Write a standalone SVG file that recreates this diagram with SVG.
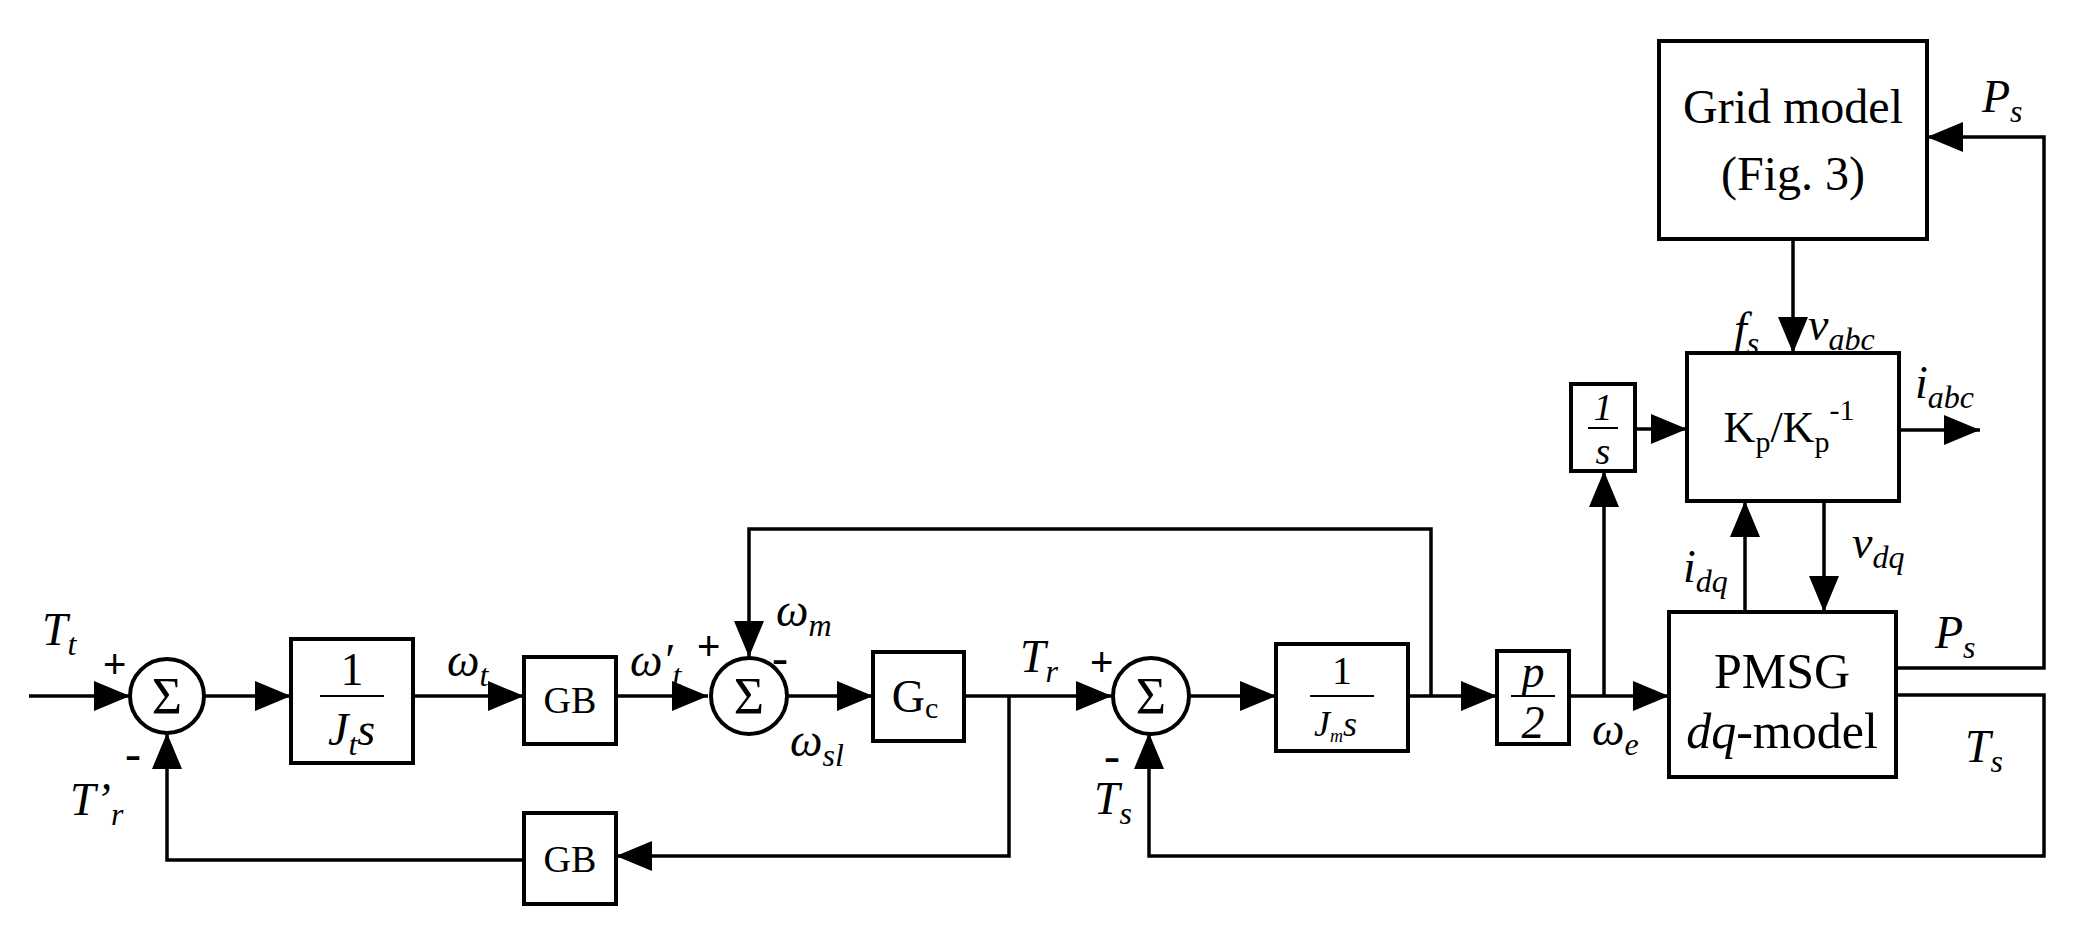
<svg xmlns="http://www.w3.org/2000/svg" width="2090" height="947" viewBox="0 0 2090 947">
<style>
.b{fill:none;stroke:#000;stroke-width:4}
.l{fill:none;stroke:#000;stroke-width:3.5}
text{font-family:"Liberation Serif",serif;fill:#000}
.i{font-style:italic;font-size:46px}
.n{font-size:52px}
.s{font-size:32px}
.p{font-size:40px;font-family:"Liberation Sans",sans-serif}
</style>
<defs>
<marker id="A" viewBox="0 0 12 10" refX="12" refY="5" markerWidth="40" markerHeight="30" orient="auto" markerUnits="userSpaceOnUse"><path d="M0,0L12,5L0,10z"/></marker>
</defs>
<g id="connectors">
<path class="l" d="M29,696H130" marker-end="url(#A)"/>
<path class="l" d="M204,696H291" marker-end="url(#A)"/>
<path class="l" d="M413,696H524" marker-end="url(#A)"/>
<path class="l" d="M616,696H708" marker-end="url(#A)"/>
<path class="l" d="M786,696H873" marker-end="url(#A)"/>
<path class="l" d="M964,696H1112" marker-end="url(#A)"/>
<path class="l" d="M1009,696V856H616" marker-end="url(#A)"/>
<path class="l" d="M524,860H167V733" marker-end="url(#A)"/>
<path class="l" d="M1190,696H1276" marker-end="url(#A)"/>
<path class="l" d="M1408,696H1497" marker-end="url(#A)"/>
<path class="l" d="M1431,696V529H749V657" marker-end="url(#A)"/>
<path class="l" d="M1569,696H1669" marker-end="url(#A)"/>
<path class="l" d="M1604,696V471" marker-end="url(#A)"/>
<path class="l" d="M1635,429H1687" marker-end="url(#A)"/>
<path class="l" d="M1899,430H1980" marker-end="url(#A)"/>
<path class="l" d="M1793,239V353" marker-end="url(#A)"/>
<path class="l" d="M1745,612V501" marker-end="url(#A)"/>
<path class="l" d="M1824,501V612" marker-end="url(#A)"/>
<path class="l" d="M1896,668H2044V137H1927" marker-end="url(#A)"/>
<path class="l" d="M1896,695H2044V856H1149V733" marker-end="url(#A)"/>
</g>
<g id="sum1"><circle class="b" cx="167" cy="696" r="37"/><text x="167" y="714" class="n" text-anchor="middle">Σ</text></g>
<g id="sum2"><circle class="b" cx="749" cy="696" r="38"/><text x="749" y="714" class="n" text-anchor="middle">Σ</text></g>
<g id="sum3"><circle class="b" cx="1151" cy="696" r="38"/><text x="1151" y="714" class="n" text-anchor="middle">Σ</text></g>
<g id="jt"><rect class="b" x="291" y="639" width="122" height="124"/><text x="352" y="685" font-size="46" text-anchor="middle">1</text><path d="M320,696H384" stroke="#000" stroke-width="2"/><text x="328" y="745" class="i">J<tspan class="s" dy="10">t</tspan><tspan dy="-10">s</tspan></text></g>
<g id="gb1"><rect class="b" x="524" y="657" width="92" height="87"/><text x="570" y="713" font-size="38" text-anchor="middle">GB</text></g>
<g id="gc"><rect class="b" x="873" y="652" width="91" height="89"/><text x="915" y="712" font-size="46" text-anchor="middle">G<tspan font-size="30" dy="6">c</tspan></text></g>
<g id="gb2"><rect class="b" x="524" y="813" width="92" height="91"/><text x="570" y="872" font-size="38" text-anchor="middle">GB</text></g>
<g id="jm"><rect class="b" x="1276" y="644" width="132" height="107"/><text x="1342" y="684" font-size="40" text-anchor="middle">1</text><path d="M1310,696H1374" stroke="#000" stroke-width="2"/><text x="1314" y="736" font-style="italic" font-size="36">J<tspan font-size="18" dy="6">m</tspan><tspan dy="-6">s</tspan></text></g>
<g id="p2"><rect class="b" x="1497" y="651" width="72" height="93"/><text x="1533" y="687" class="i" text-anchor="middle">p</text><path d="M1511,696H1555" stroke="#000" stroke-width="2"/><text x="1533" y="738" class="i" text-anchor="middle">2</text></g>
<g id="int"><rect class="b" x="1571" y="384" width="64" height="87"/><text x="1603" y="420" font-size="38" font-style="italic" text-anchor="middle">1</text><path d="M1588,428H1618" stroke="#000" stroke-width="2"/><text x="1603" y="464" font-size="38" font-style="italic" text-anchor="middle">s</text></g>
<g id="kp"><rect class="b" x="1687" y="353" width="212" height="148"/><text x="1789" y="442" font-size="44" text-anchor="middle">K<tspan font-size="30" dy="10">p</tspan><tspan dy="-10">/K</tspan><tspan font-size="30" dy="10">p</tspan><tspan font-size="30" dy="-32">-1</tspan></text></g>
<g id="grid"><rect class="b" x="1659" y="41" width="268" height="198"/><text x="1793" y="123" font-size="48" text-anchor="middle">Grid model</text><text x="1793" y="190" font-size="48" text-anchor="middle">(Fig. 3)</text></g>
<g id="pmsg"><rect class="b" x="1669" y="612" width="227" height="165"/><text x="1782" y="688" font-size="50" text-anchor="middle">PMSG</text><text x="1782" y="748" font-size="50" text-anchor="middle"><tspan font-style="italic">dq</tspan>-model</text></g>
<g id="labels">
<text x="42" y="645" class="i">T<tspan class="s" dy="10">t</tspan></text>
<text x="103" y="678" class="p">+</text>
<text x="125" y="770" font-size="48" font-family="Liberation Sans">-</text>
<text x="70" y="815" class="i">T’<tspan class="s" dy="10">r</tspan></text>
<text x="447" y="676" class="i">ω<tspan class="s" dy="10">t</tspan></text>
<text x="630" y="676" class="i">ω′<tspan class="s" dy="10">t</tspan></text>
<text x="697" y="660" class="p">+</text>
<text x="776" y="626" class="i">ω<tspan class="s" dy="10">m</tspan></text>
<text x="772" y="674" font-size="48" font-family="Liberation Sans">-</text>
<text x="790" y="756" class="i">ω<tspan class="s" dy="10">sl</tspan></text>
<text x="1020" y="672" class="i">T<tspan class="s" dy="10">r</tspan></text>
<text x="1090" y="676" class="p">+</text>
<text x="1104" y="772" font-size="48" font-family="Liberation Sans">-</text>
<text x="1094" y="814" class="i">T<tspan class="s" dy="10">s</tspan></text>
<text x="1592" y="745" class="i">ω<tspan class="s" dy="10">e</tspan></text>
<text x="1734" y="344" class="i">f<tspan class="s" dy="10">s</tspan></text>
<text x="1808" y="340" class="i">v<tspan class="s" dy="10">abc</tspan></text>
<text x="1915" y="398" class="i">i<tspan class="s" dy="10">abc</tspan></text>
<text x="1683" y="582" class="i">i<tspan class="s" dy="10">dq</tspan></text>
<text x="1852" y="558" class="i">v<tspan class="s" dy="10">dq</tspan></text>
<text x="1982" y="112" class="i">P<tspan class="s" dy="10">s</tspan></text>
<text x="1935" y="648" class="i">P<tspan class="s" dy="10">s</tspan></text>
<text x="1965" y="762" class="i">T<tspan class="s" dy="10">s</tspan></text>
</g>
</svg>
